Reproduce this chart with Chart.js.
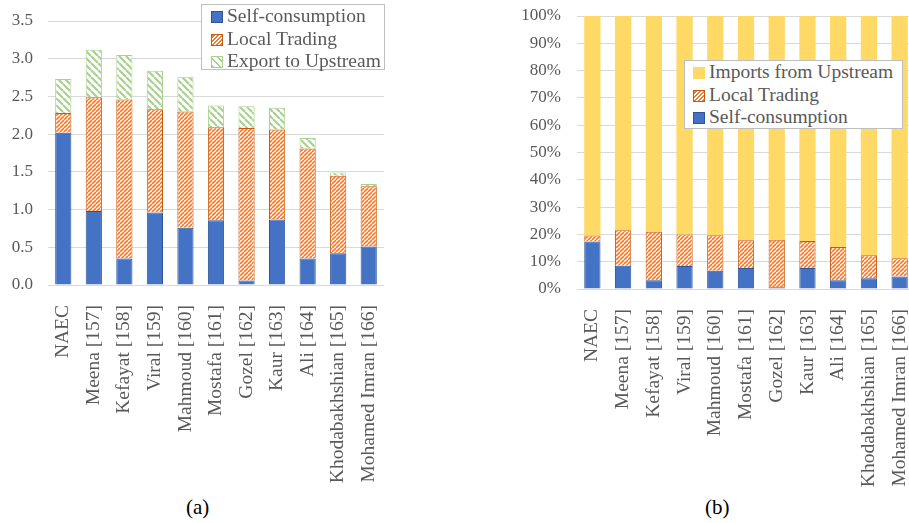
<!DOCTYPE html>
<html>
<head>
<meta charset="utf-8">
<script src="https://cdn.jsdelivr.net/npm/chart.js@4.4.1/dist/chart.umd.min.js"></script>
<style>
  html, body { margin: 0; padding: 0; background: #fff; overflow: hidden; }
  body { width: 909px; height: 523px; position: relative; font-family: "Liberation Serif", "Times New Roman", serif; }
  canvas { position: absolute; }
  .legend {
    position: absolute; background: #fff; border: 1px solid #bfbfbf;
    font-family: "Liberation Serif", "Times New Roman", serif;
    color: #595959; font-size: 19.5px; line-height: 22.5px; box-sizing: border-box;
  }
  .legend div { white-space: nowrap; }
  .sw { display: inline-block; width: 12px; height: 12px; box-sizing: border-box; vertical-align: -1px; margin-right: 4px; }
  .caption { position: absolute; font-family: "Liberation Serif", "Times New Roman", serif; font-size: 21px; color: #000; top: 495px; }
</style>
</head>
<body>
<canvas id="chartA" width="386" height="485" style="left:0;top:0"></canvas>
<canvas id="chartB" width="417" height="489" style="left:500px;top:0"></canvas>

<div class="legend" style="left:201px;top:4px;width:184px;height:66px;padding:0 0 0 9px">
  <div><span class="sw" style="background:#4472c4;border:1px solid #2f5597"></span>Self-consumption</div>
  <div><span class="sw" style="border:1px solid #c55a11;background:repeating-linear-gradient(-45deg,#ed7d31 0 1.5px,#fff 1.5px 3px)"></span>Local Trading</div>
  <div><span class="sw" style="border:1px solid #a9d18e;background:repeating-linear-gradient(45deg,#a9d18e 0 2px,#fff 2px 5px)"></span>Export to Upstream</div>
</div>

<div class="legend" style="left:684px;top:60px;width:219px;height:69px;padding:0 0 0 8px">
  <div><span class="sw" style="background:#ffd966"></span>Imports from Upstream</div>
  <div><span class="sw" style="border:1px solid #c55a11;background:repeating-linear-gradient(-45deg,#ed7d31 0 1.5px,#fff 1.5px 3px)"></span>Local Trading</div>
  <div><span class="sw" style="background:#4472c4;border:1px solid #2f5597"></span>Self-consumption</div>
</div>

<div class="caption" style="left:186px">(a)</div>
<div class="caption" style="left:705px">(b)</div>

<script>
// categories
const categories = [
  "NAEC", "Meena [157]", "Kefayat [158]", "Viral [159]", "Mahmoud [160]",
  "Mostafa [161]", "Gozel [162]", "Kaur [163]", "Ali [164]",
  "Khodabakhshian [165]", "Mohamed Imran [166]"
];

// (a) energy values
const selfConsumption = [2.02, 0.98, 0.35, 0.96, 0.76, 0.86, 0.06, 0.87, 0.35, 0.42, 0.51];
const localTrading    = [0.26, 1.51, 2.11, 1.37, 1.54, 1.23, 2.02, 1.19, 1.46, 1.03, 0.80];
const exportUpstream  = [0.45, 0.63, 0.59, 0.51, 0.46, 0.29, 0.29, 0.29, 0.14, 0.04, 0.03];

// (b) shares in %
const shareSelf    = [17.4, 8.5, 3.2, 8.4, 6.7, 7.7, 0.6, 7.7, 3.2, 3.9, 4.6];
const shareLocal   = [2.2, 13.0, 17.8, 11.6, 13.0, 10.2, 17.4, 9.9, 12.2, 8.5, 6.7];
const shareImports = [80.4, 78.5, 79.0, 80.0, 80.3, 82.1, 82.0, 82.4, 84.6, 87.6, 88.7];

Chart.defaults.font.family = '"Liberation Serif", "Times New Roman", serif';
Chart.defaults.color = "#595959";

// hatch pattern: dir 1 = "/" , dir -1 = "\"
function hatch(color, size, lw, dir) {
  const c = document.createElement("canvas");
  c.width = size; c.height = size;
  const g = c.getContext("2d");
  g.fillStyle = "#fff";
  g.fillRect(0, 0, size, size);
  g.strokeStyle = color;
  g.lineWidth = lw;
  g.beginPath();
  for (let k = -1; k <= 1; k++) {
    if (dir > 0) { g.moveTo(k * size, size); g.lineTo(k * size + size, 0); }
    else { g.moveTo(k * size, 0); g.lineTo(k * size + size, size); }
  }
  g.stroke();
  return g.createPattern(c, "repeat");
}

const orangeHatch = hatch("#ed7d31", 4, 1.6, 1);
const greenHatch = hatch("#a9d18e", 7, 2.2, -1);

function baseOptions(yMax, yStep, yWidth, yPad, fmt, padTop) {
  return {
    responsive: false,
    animation: false,
    layout: { padding: { top: padTop, right: 2, left: 0, bottom: 0 } },
    plugins: { legend: { display: false }, tooltip: { enabled: false } },
    scales: {
      x: {
        stacked: true,
        grid: { display: false },
        border: { display: false },
        ticks: { autoSkip: false, minRotation: 90, maxRotation: 90, padding: 12,
                 font: { size: 19.5 }, color: "#595959" },
        afterFit: (axis) => { axis.height = 200; axis.paddingLeft = 0; axis.paddingRight = 0; }
      },
      y: {
        stacked: true,
        min: 0, max: yMax,
        grid: { color: "#d9d9d9", drawTicks: false, lineWidth: 1 },
        border: { display: false },
        ticks: { stepSize: yStep, padding: yPad, font: { size: 17 }, color: "#595959",
                 callback: fmt },
        afterFit: (axis) => { axis.width = yWidth; axis.paddingTop = 0; axis.paddingBottom = 0; }
      }
    }
  };
}

const barOpts = { categoryPercentage: 1, barPercentage: 0.53 };

new Chart(document.getElementById("chartA"), {
  type: "bar",
  data: {
    labels: categories,
    datasets: [
      Object.assign({ label: "Self-consumption", data: selfConsumption,
        backgroundColor: "#4472c4", borderColor: "#2f5597", borderWidth: 1 }, barOpts),
      Object.assign({ label: "Local Trading", data: localTrading,
        backgroundColor: orangeHatch, borderColor: "#c55a11", borderWidth: 1 }, barOpts),
      Object.assign({ label: "Export to Upstream", data: exportUpstream,
        backgroundColor: greenHatch, borderColor: "#a9d18e", borderWidth: 1 }, barOpts)
    ]
  },
  options: baseOptions(3.5, 0.5, 48, 15, (v) => Number(v).toFixed(1), 21)
});

new Chart(document.getElementById("chartB"), {
  type: "bar",
  data: {
    labels: categories,
    datasets: [
      Object.assign({ label: "Self-consumption", data: shareSelf,
        backgroundColor: "#4472c4", borderColor: "#2f5597", borderWidth: 1 }, barOpts),
      Object.assign({ label: "Local Trading", data: shareLocal,
        backgroundColor: orangeHatch, borderColor: "#c55a11", borderWidth: 1 }, barOpts),
      Object.assign({ label: "Imports from Upstream", data: shareImports,
        backgroundColor: "#ffd966", borderWidth: 0 }, barOpts)
    ]
  },
  options: baseOptions(100, 10, 77, 16, (v) => v + "%", 16)
});
</script>
</body>
</html>
